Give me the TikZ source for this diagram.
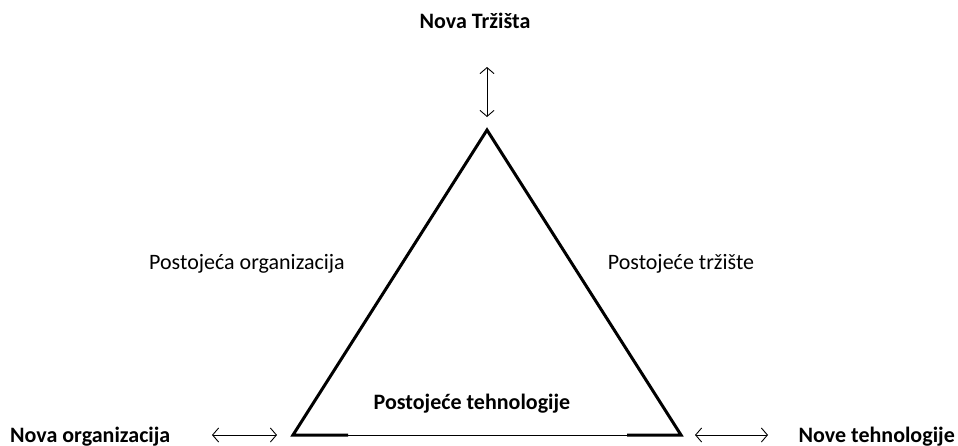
\documentclass[tikz,border=0pt]{standalone}
\usepackage{fontspec}
\setmainfont{Carlito}
\usetikzlibrary{arrows.meta,positioning,calc}
\tikzset{
  lbl/.style  = { inner sep=0pt, font=\fontsize{22}{26}\selectfont },
  blbl/.style = { lbl, font=\fontsize{22}{26}\selectfont\bfseries },
  corner/.style = { inner sep=0pt, minimum size=0pt },
  side/.style = { line width=3pt, line join=miter },
  base/.style = { line width=1pt },
  dbl/.style  = { {Straight Barb[length=6pt,width=14pt]}-{Straight Barb[length=6pt,width=14pt]}, line width=0.9pt }
}

\begin{document}
\begin{tikzpicture}[x=1pt,y=-1pt]
      \useasboundingbox (0,0) rectangle (958,445);
      % corners of the triangle
      \coordinate (top) at (487,130);
      \coordinate (bl) at (293,435);
      \coordinate (br) at (681,435);
      \coordinate (blend) at (348,435);
      \coordinate (brend) at (627,435);
      % labels
      \node[blbl] (mkt) at (475,21) {Nova Tržišta};
      \node[lbl] (porg) at (247,264) {Postojeća organizacija};
      \node[lbl] (ptrz) at (681,264) {Postojeće tržište};
      \node[blbl] (ptech) at (472,404) {Postojeće tehnologije};
      \node[blbl, anchor=west] (norg) at (10,437) {Nova organizacija};
      \node[blbl, anchor=east] (ntech) at (955,437) {Nove tehnologije};
      % arrows
      \coordinate (a1) at (487,67);
      \coordinate (a2) at (487,117);
      \coordinate (b1) at (212,435);
      \coordinate (b2) at (277,435);
      \coordinate (c1) at (695,435);
      \coordinate (c2) at (768,435);
      \draw[dbl] (a1) -- (a2);
      \draw[dbl] (b1) -- (b2);
      \draw[dbl] (c1) -- (c2);
      % triangle
      \draw[base] (blend) -- (brend);
      \draw[side] (blend) -- (bl) -- (top) -- (br) -- (brend);
    \end{tikzpicture}
\end{document}
